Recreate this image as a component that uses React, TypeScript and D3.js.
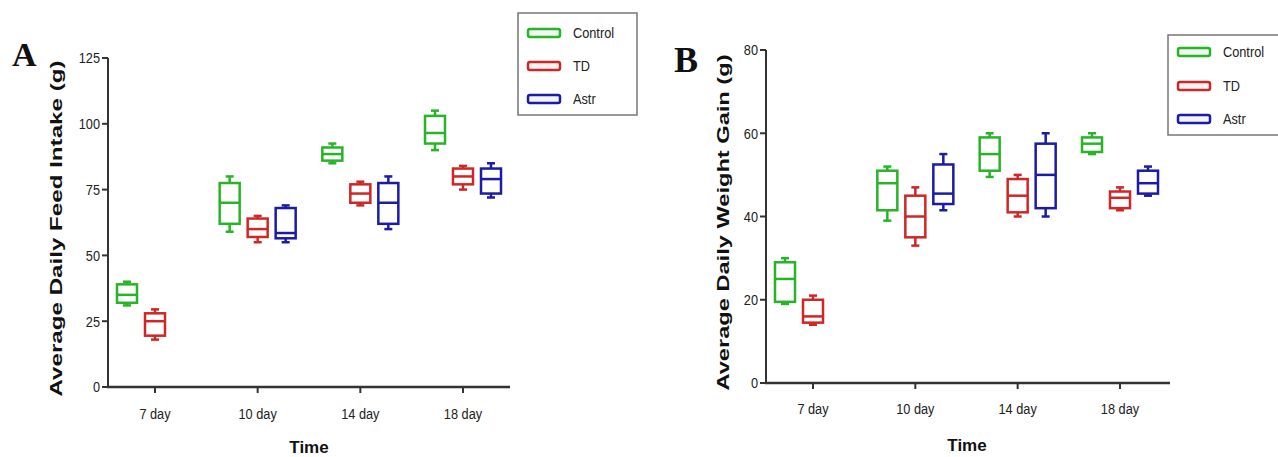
import React from "react";
import * as d3 from "d3";

const days = ["7 day", "10 day", "14 day", "18 day"];
const groups = ["Control", "TD", "Astr"];
const colors = ["#27b427", "#cf2626", "#1b1ba6"];

// [min, q1, median, q3, max] per group per day (null = absent)
const feedControl = [[31, 32, 35, 39, 40], [59, 62, 70, 77.5, 80], [85, 86, 88.5, 91, 92.5], [90, 92.5, 96.5, 103, 105]];
const feedTD = [[18, 19.5, 25, 28, 29.5], [55, 57, 60, 64, 65], [69, 70, 73.5, 77, 78], [75, 77, 80, 83, 84]];
const feedAstr = [null, [55, 56.5, 58.5, 68, 69], [60, 62, 70, 77.5, 80], [72, 73.5, 79, 83, 85]];

const gainControl = [[19, 19.5, 25, 29, 30], [39, 41.5, 48, 51, 52], [49.5, 51, 55, 59, 60], [55, 55.5, 57.5, 59, 60]];
const gainTD = [[14, 14.5, 16, 20, 21], [33, 35, 40, 45, 47], [40, 41, 45, 49, 50], [41.5, 42, 44.5, 46, 47]];
const gainAstr = [null, [41.5, 43, 45.5, 52.5, 55], [40, 42, 50, 57.5, 60], [45, 45.5, 48, 51, 52]];

const feedTicks = [0, 25, 50, 75, 100, 125];
const gainTicks = [0, 20, 40, 60, 80];

type Stats = number[] | null;

interface PanelProps {
  letter: string;
  letterX: number;
  letterY: number;
  letterSize: number;
  yTitle: string;
  yTitleX: number;
  series: Stats[][];
  yMax: number;
  yTicks: number[];
  axisX: number;
  axisEnd: number;
  y0: number;
  yTop: number;
  firstTick: number;
  lastTick: number;
  tickLabelDy: number;
  timeX: number;
  timeY: number;
  legend: { x: number; y: number; w: number; h: number; rows: number[] };
}

const font = "Liberation Sans, Arial, sans-serif";

const Panel: React.FC<PanelProps> = (p) => {
  const y = d3.scaleLinear().domain([0, p.yMax]).range([p.y0, p.yTop]);
  const x = d3.scalePoint<string>().domain(days).range([p.firstTick, p.lastTick]);
  const off = d3.scalePoint<string>().domain(groups).range([-28, 28]);
  const bw = 20;
  const cap = 4;
  const axisColor = "#333";
  const sx = (cx: number, s: number) => `translate(${cx},0) scale(${s},1) translate(${-cx},0)`;
  return (
    <g>
      <text x={p.letterX} y={p.letterY} fontFamily="Liberation Serif, serif" fontWeight="bold" fontSize={p.letterSize} fill="#111">
        {p.letter}
      </text>
      <text
        transform={`translate(${p.yTitleX},${(p.y0 + p.yTop) / 2 + 6}) rotate(-90)`}
        textAnchor="middle"
        fontFamily={font}
        fontWeight="bold"
        fontSize={16.5}
        textLength={336}
        lengthAdjust="spacingAndGlyphs"
        fill="#111"
      >
        {p.yTitle}
      </text>
      {/* y axis */}
      <line x1={p.axisX} x2={p.axisX} y1={p.yTop} y2={p.y0} stroke={axisColor} strokeWidth={2} />
      {p.yTicks.map((t) => (
        <g key={t}>
          <line x1={p.axisX - 6} x2={p.axisX} y1={y(t)} y2={y(t)} stroke={axisColor} strokeWidth={2} />
          <text x={p.axisX - 8} y={y(t) + 5.5} textAnchor="end" fontFamily={font} fontSize={15} fill="#222" transform={sx(p.axisX - 8, 0.85)}>
            {t}
          </text>
        </g>
      ))}
      {/* x axis */}
      <line x1={p.axisX - 1} x2={p.axisEnd} y1={p.y0} y2={p.y0} stroke={axisColor} strokeWidth={2.5} />
      {days.map((d) => (
        <g key={d}>
          <line x1={x(d)} x2={x(d)} y1={p.y0} y2={p.y0 + 6} stroke={axisColor} strokeWidth={2} />
          <text x={x(d)} y={p.y0 + p.tickLabelDy} textAnchor="middle" fontFamily={font} fontSize={15} fill="#222" transform={sx(x(d) as number, 0.85)}>
            {d}
          </text>
        </g>
      ))}
      <text x={p.timeX} y={p.timeY} textAnchor="middle" fontFamily={font} fontWeight="bold" fontSize={17} fill="#111">
        Time
      </text>
      {/* boxes */}
      {groups.map((g, gi) =>
        p.series[gi].map((s, di) => {
          if (!s) return null;
          const cx = (x(days[di]) as number) + (off(g) as number);
          const [mn, q1, md, q3, mx] = s;
          return (
            <g key={g + di} stroke={colors[gi]} strokeWidth={2.5} fill="none">
              <line x1={cx} x2={cx} y1={y(mx)} y2={y(q3)} />
              <line x1={cx} x2={cx} y1={y(q1)} y2={y(mn)} />
              <line x1={cx - cap} x2={cx + cap} y1={y(mx)} y2={y(mx)} />
              <line x1={cx - cap} x2={cx + cap} y1={y(mn)} y2={y(mn)} />
              <rect x={cx - bw / 2} y={y(q3)} width={bw} height={y(q1) - y(q3)} fill="#fff" />
              <line x1={cx - bw / 2} x2={cx + bw / 2} y1={y(md)} y2={y(md)} />
            </g>
          );
        })
      )}
      {/* legend */}
      <rect x={p.legend.x} y={p.legend.y} width={p.legend.w} height={p.legend.h} fill="#fff" stroke="#777" strokeWidth={1.5} />
      {groups.map((g, gi) => (
        <g key={g}>
          <rect x={p.legend.x + 10} y={p.legend.rows[gi] - 4} width={32} height={8} rx={2} fill="#f4f4f4" stroke={colors[gi]} strokeWidth={2.5} />
          <text x={p.legend.x + 55} y={p.legend.rows[gi] + 5} fontFamily={font} fontSize={14.5} fill="#222" transform={sx(p.legend.x + 55, 0.88)}>
            {g}
          </text>
        </g>
      ))}
    </g>
  );
};

export default function App() {
  return (
    <svg width={1278} height={457} style={{ position: "absolute", left: 0, top: 0, background: "#fff" }}>
      <rect width={1278} height={457} fill="#fff" />
      <Panel
        letter="A"
        letterX={12}
        letterY={66}
        letterSize={34}
        yTitle="Average Daily Feed Intake (g)"
        yTitleX={62}
        series={[feedControl, feedTD, feedAstr]}
        yMax={125}
        yTicks={feedTicks}
        axisX={108}
        axisEnd={510}
        y0={387}
        yTop={58}
        firstTick={155}
        lastTick={463}
        tickLabelDy={32}
        timeX={309}
        timeY={453}
        legend={{ x: 518, y: 13, w: 119, h: 102, rows: [33, 66, 99] }}
      />
      <Panel
        letter="B"
        letterX={674}
        letterY={72}
        letterSize={36}
        yTitle="Average Daily Weight Gain (g)"
        yTitleX={729}
        series={[gainControl, gainTD, gainAstr]}
        yMax={80}
        yTicks={gainTicks}
        axisX={766}
        axisEnd={1170}
        y0={383}
        yTop={50}
        firstTick={813}
        lastTick={1120}
        tickLabelDy={31}
        timeX={967}
        timeY={451}
        legend={{ x: 1168, y: 35, w: 120, h: 100, rows: [52, 86, 119] }}
      />
    </svg>
  );
}
